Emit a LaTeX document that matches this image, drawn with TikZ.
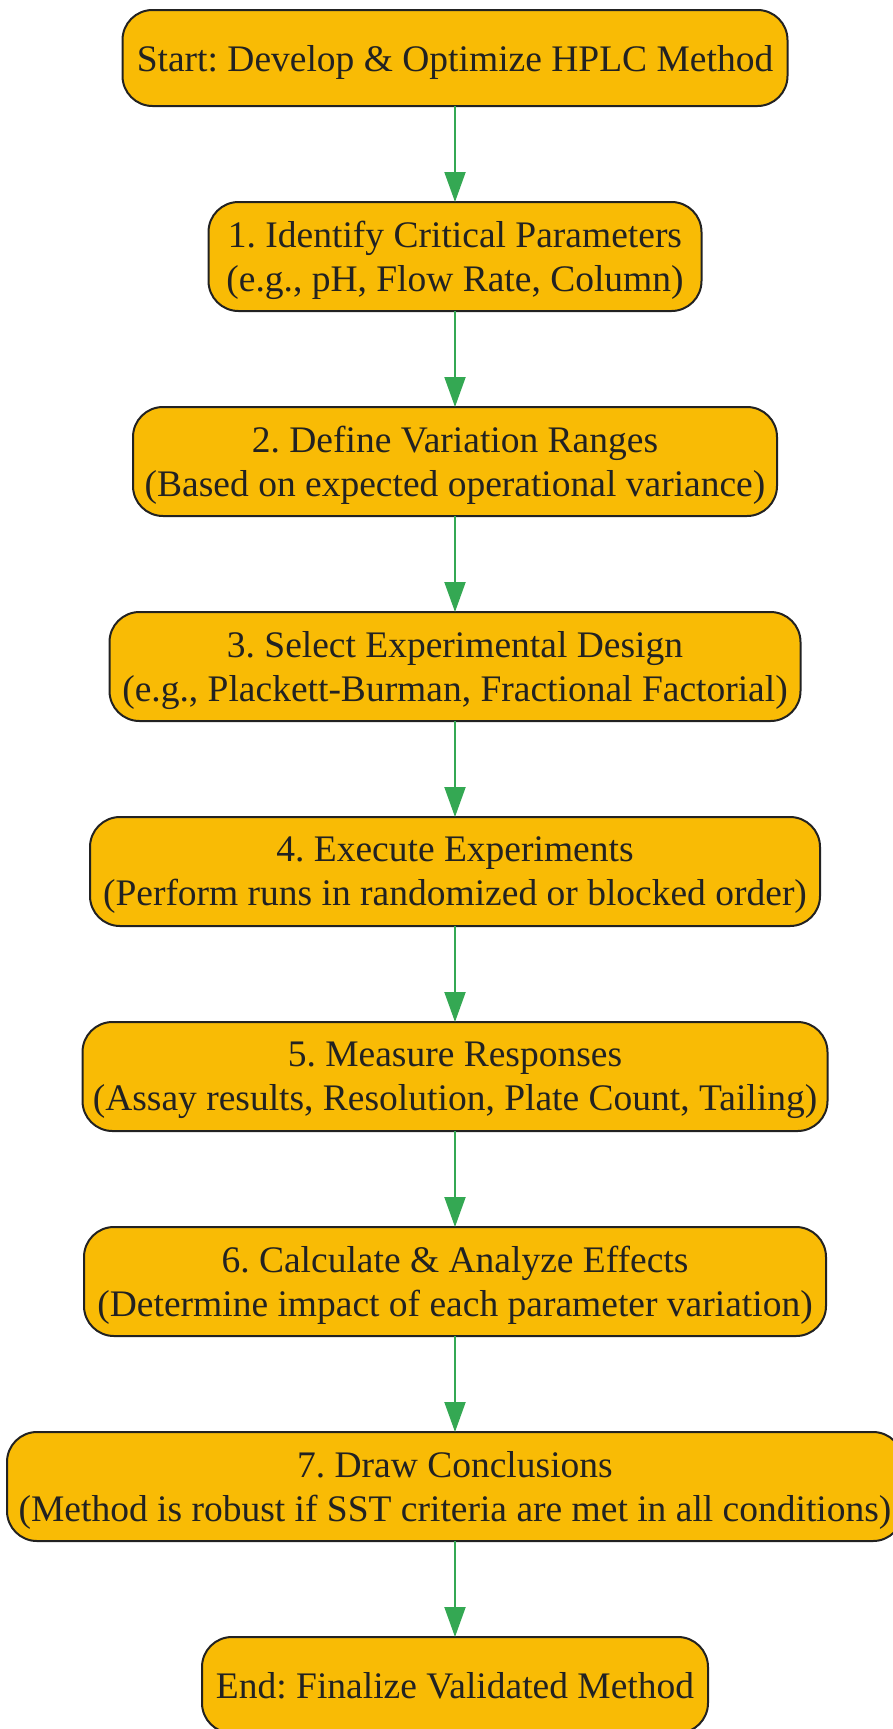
\documentclass[tikz,border=0pt]{standalone}
\usepackage{fontspec}
\setmainfont{Liberation Serif}
\usetikzlibrary{positioning,arrows.meta}
\definecolor{HPYellow}{HTML}{F9BB05}
\definecolor{HPGreen}{HTML}{34A853}
\definecolor{HPLine}{HTML}{222222}

\begin{document}
\frenchspacing
\begin{tikzpicture}[x=1pt,y=-1pt,
  stepbox/.style={draw=HPLine,line width=2pt,fill=HPYellow,rounded corners=30pt,
    align=center,inner sep=0pt,outer sep=0pt,minimum height=109pt,text=HPLine,
    text depth=0pt,font=\fontsize{37.5}{44}\selectfont},
  endbox/.style={stepbox,minimum height=96pt},
  flow/.style={HPGreen,line width=2pt,-{Triangle[length=30pt,width=21pt]}},
  node distance=96pt]
\path[use as bounding box] (0,0) rectangle (893,1729);
\node[endbox,minimum width=665pt] (start) at (455,58) {Start: Develop \& Optimize HPLC Method};
\node[stepbox,minimum width=493pt,below=of start] (params) {1. Identify Critical Parameters\\(e.g., pH, Flow Rate, Column)};
\node[stepbox,minimum width=644pt,below=of params] (ranges) {2. Define Variation Ranges\\(Based on expected operational variance)};
\node[stepbox,minimum width=691pt,below=of ranges] (design) {3. Select Experimental Design\\(e.g., Plackett-Burman, Fractional Factorial)};
\node[stepbox,minimum width=730pt,below=of design] (execute) {4. Execute Experiments\\(Perform runs in randomized or blocked order)};
\node[stepbox,minimum width=745pt,below=of execute] (measure) {5. Measure Responses\\(Assay results, Resolution, Plate Count, Tailing)};
\node[stepbox,minimum width=742pt,below=of measure] (analyze) {6. Calculate \& Analyze Effects\\(Determine impact of each parameter variation)};
\node[stepbox,minimum width=896pt,below=of analyze] (conclude) {7. Draw Conclusions\\(Method is robust if SST criteria are met in all conditions)};
\node[endbox,minimum width=506pt,below=of conclude] (finish) {End: Finalize Validated Method};
% arrows between the steps
\draw[flow] (start) -- (params);
\draw[flow] (params) -- (ranges);
\draw[flow] (ranges) -- (design);
\draw[flow] (design) -- (execute);
\draw[flow] (execute) -- (measure);
\draw[flow] (measure) -- (analyze);
\draw[flow] (analyze) -- (conclude);
\draw[flow] (conclude) -- (finish);
\end{tikzpicture}
\end{document}
